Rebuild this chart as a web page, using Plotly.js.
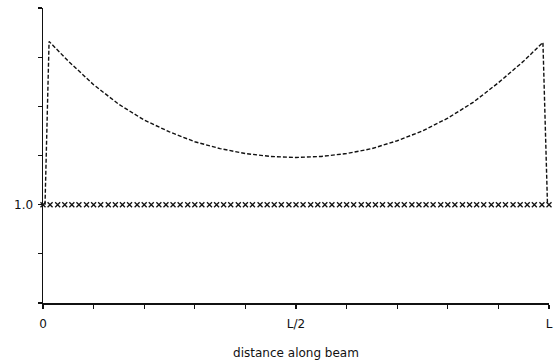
<!DOCTYPE html>
<html>
<head>
<meta charset="utf-8">
<script src="https://cdn.plot.ly/plotly-3.0.1.min.js"></script>
<style>html,body{margin:0;padding:0;background:#fff;}#chart{width:559px;height:363px;}</style>
</head>
<body>
<div id="chart"></div>
<script>
// distance along beam, in units of L
const curveX = [0.004, 0.012, 0.05, 0.1, 0.15, 0.2, 0.25, 0.3, 0.35, 0.4, 0.45, 0.5, 0.55, 0.6, 0.65, 0.7, 0.75, 0.8, 0.85, 0.9, 0.95, 0.988, 0.997];
const curveY = [1.0, 2.66, 2.46, 2.22, 2.02, 1.86, 1.74, 1.64, 1.57, 1.52, 1.49, 1.48, 1.49, 1.52, 1.57, 1.65, 1.75, 1.88, 2.04, 2.24, 2.46, 2.65, 1.0];

const markX = [0.000,0.014,0.029,0.043,0.057,0.071,0.086,0.100,0.114,0.129,0.143,0.157,0.171,0.186,
  0.200,0.214,0.229,0.243,0.257,0.271,0.286,0.300,0.314,0.329,0.343,0.357,0.371,0.386,
  0.400,0.414,0.429,0.443,0.457,0.471,0.486,0.500,0.514,0.529,0.543,0.557,0.571,0.586,
  0.600,0.614,0.629,0.643,0.657,0.671,0.686,0.700,0.714,0.729,0.743,0.757,0.771,0.786,
  0.800,0.814,0.829,0.843,0.857,0.871,0.886,0.900,0.914,0.929,0.943,0.957,0.971,0.986,1.000];
const markLevel = 1.0;

const xTickVals = [0, 0.1, 0.2, 0.3, 0.4, 0.5, 0.6, 0.7, 0.8, 0.9, 1.0];
const xTickText = ["0", "", "", "", "", "L/2", "", "", "", "", "L"];
const yTickVals = [0, 0.5, 1.0, 1.5, 2.0, 2.5, 3.0];
const yTickText = ["", "", "1.0", "", "", "", ""];

const traces = [
  {
    x: curveX, y: curveY, type: 'scatter', mode: 'lines',
    line: {color: '#111', width: 1.4, dash: '4px,2px'},
    cliponaxis: false, hoverinfo: 'skip'
  },
  {
    x: markX, y: markX.map(() => markLevel), type: 'scatter', mode: 'markers',
    marker: {symbol: 'x-thin', size: 5, color: '#111', line: {color: '#111', width: 1.3}},
    cliponaxis: false, hoverinfo: 'skip'
  }
];

const layout = {
  width: 559, height: 363,
  margin: {l: 43, r: 10, t: 8, b: 60},
  paper_bgcolor: '#fff', plot_bgcolor: '#fff',
  showlegend: false,
  font: {family: 'DejaVu Sans', size: 12, color: '#111'},
  xaxis: {
    range: [0, 1], showgrid: false, zeroline: false,
    showline: true, linecolor: '#111', linewidth: 1.5,
    ticks: 'outside', ticklen: 4, tickwidth: 1.3, tickcolor: '#111',
    tickvals: xTickVals, ticktext: xTickText, ticklabelstandoff: 5,
    tickfont: {family: 'DejaVu Sans', size: 12, color: '#111'},
    title: {text: 'distance along beam', font: {family: 'DejaVu Sans', size: 12, color: '#111'}, standoff: 18}
  },
  yaxis: {
    range: [0, 3], showgrid: false, zeroline: false,
    showline: true, linecolor: '#111', linewidth: 1.5,
    ticks: 'outside', ticklen: 4, tickwidth: 1.3, tickcolor: '#111',
    tickvals: yTickVals, ticktext: yTickText, ticklabelstandoff: 2,
    tickfont: {family: 'DejaVu Sans', size: 12, color: '#111'}
  }
};

Plotly.newPlot('chart', traces, layout, {staticPlot: true, displayModeBar: false});
</script>
</body>
</html>
